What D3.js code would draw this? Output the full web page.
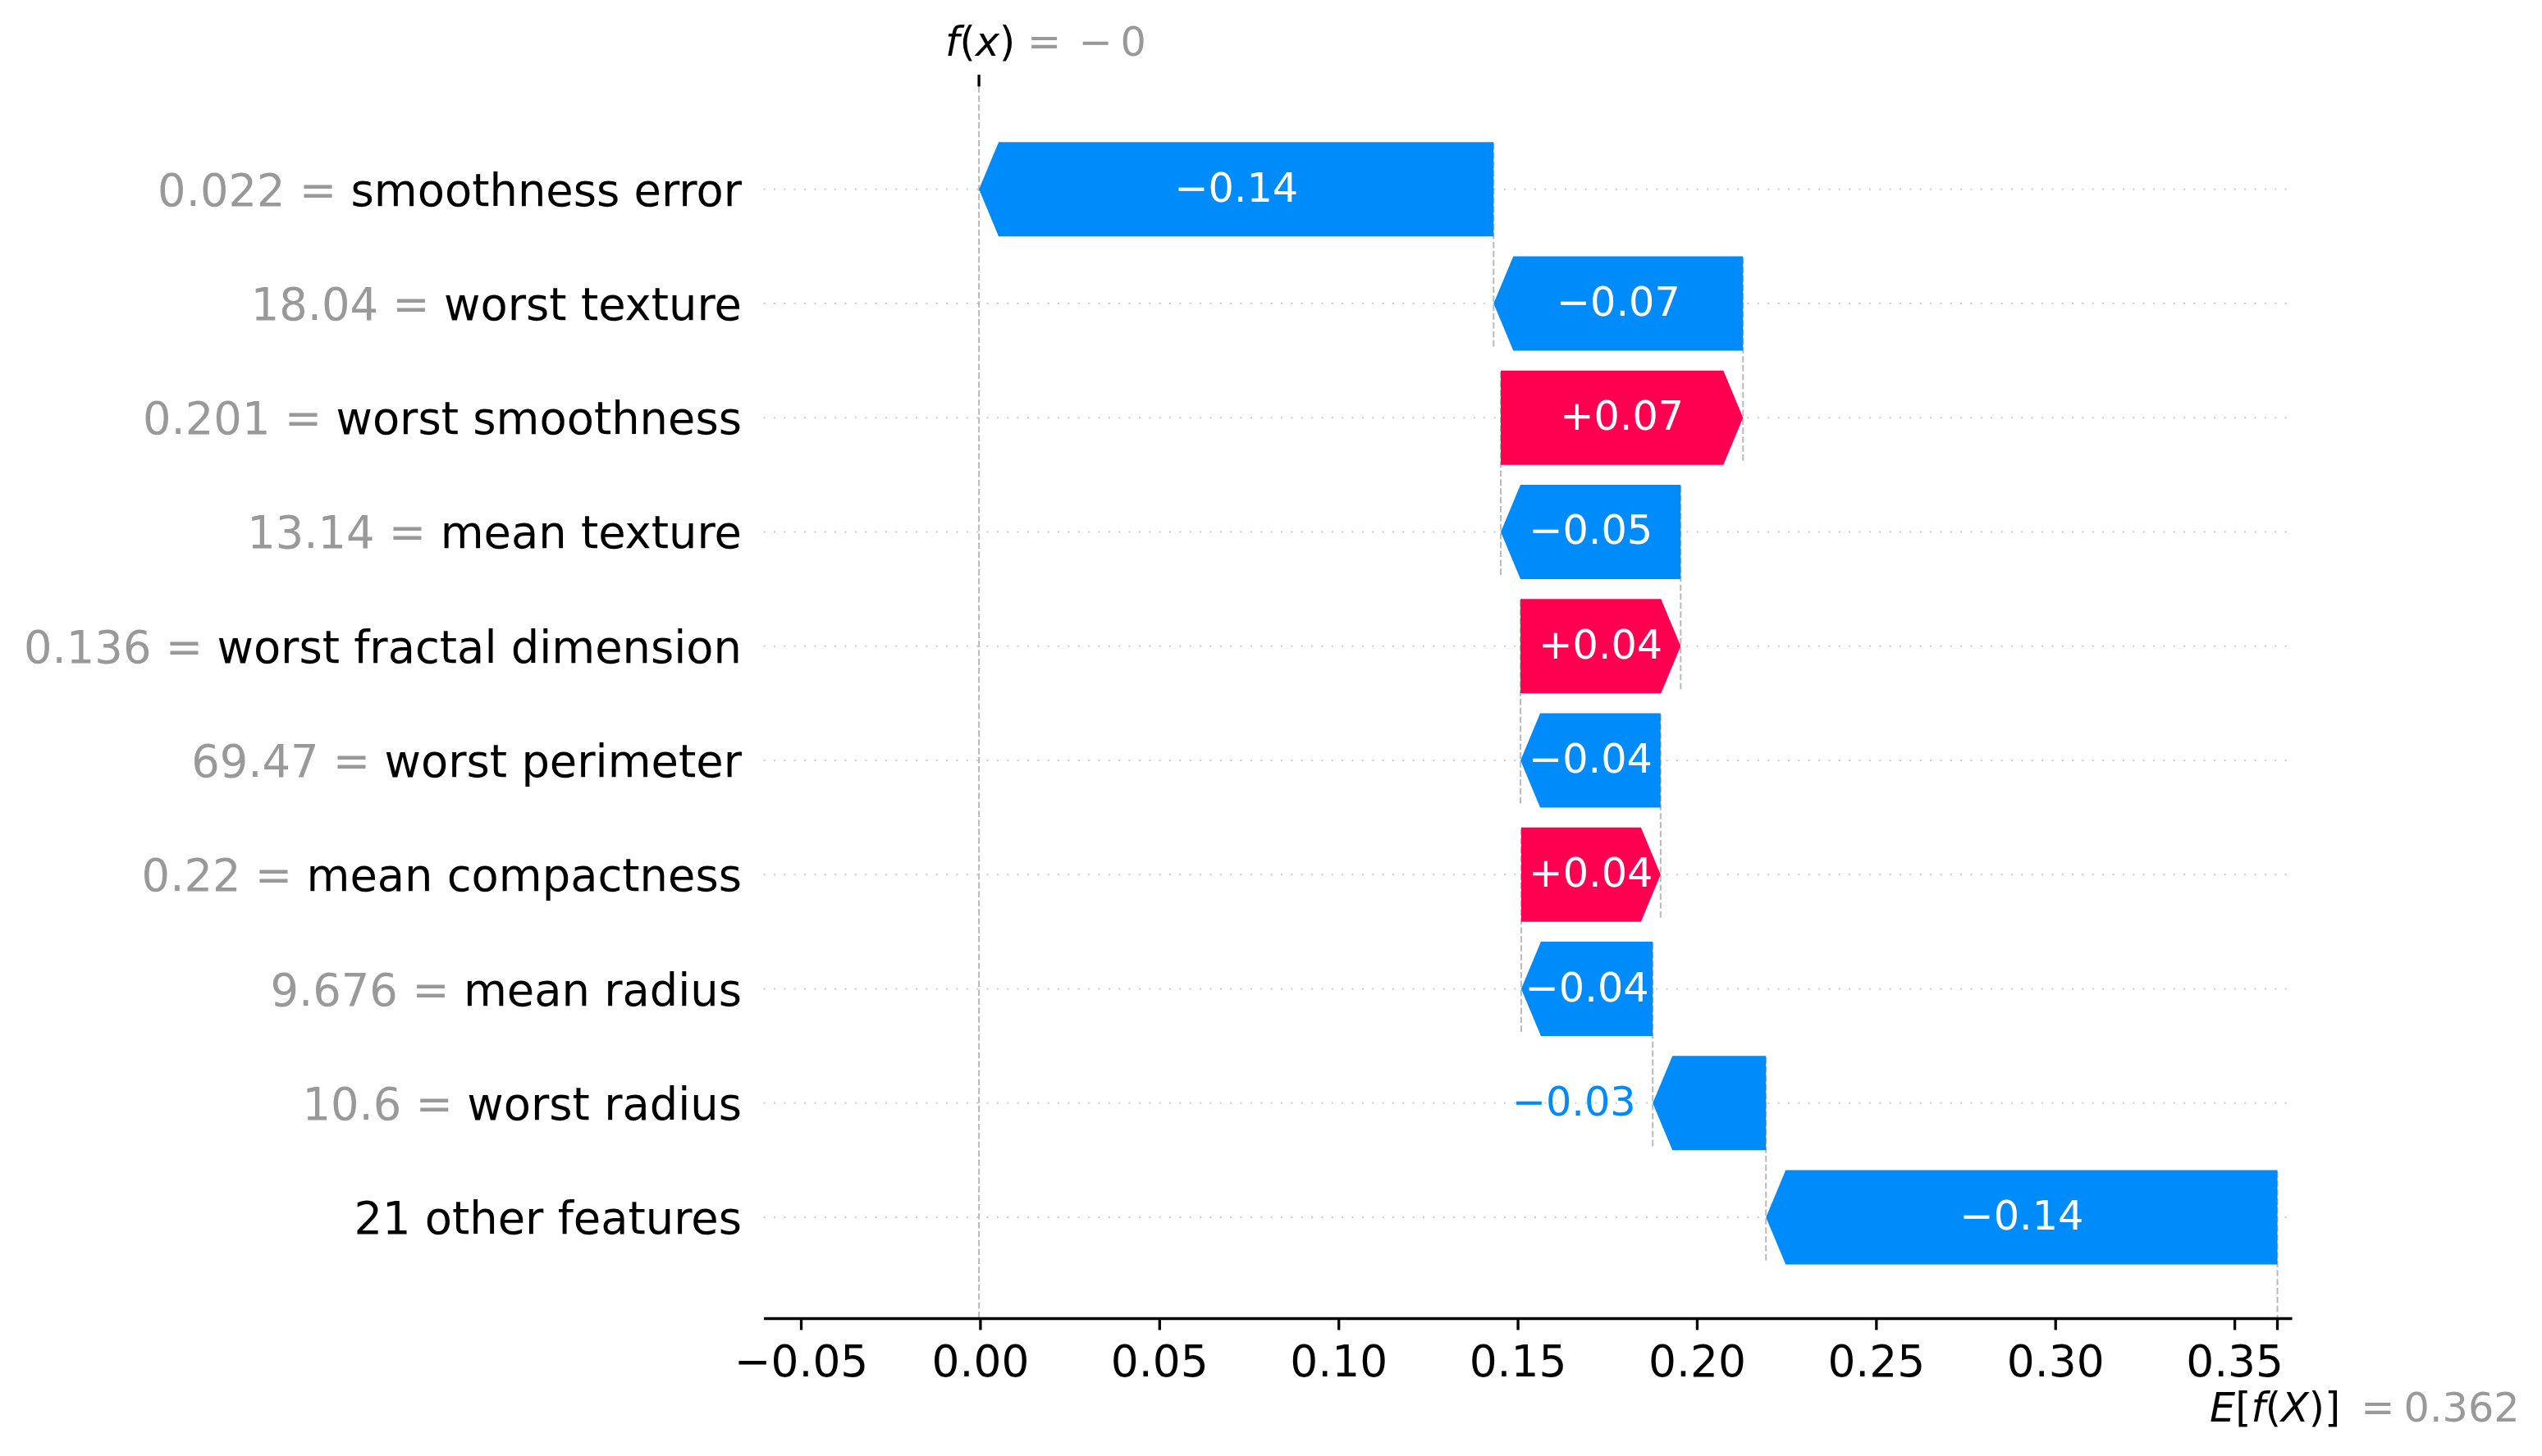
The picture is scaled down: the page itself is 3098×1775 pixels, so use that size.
<!DOCTYPE html>
<html lang="en">
<head>
<meta charset="utf-8">
<title>SHAP waterfall</title>
<script src="https://cdn.jsdelivr.net/npm/d3@7"></script>
<style>
  body { margin: 0; background: #fff; }
  text { font-family: "DejaVu Sans", sans-serif; white-space: pre; }
</style>
</head>
<body>
<script>
var w = 3098, h = 1775;

// rows from top to bottom
var featureNames = ["smoothness error", "worst texture", "worst smoothness", "mean texture",
  "worst fractal dimension", "worst perimeter", "mean compactness", "mean radius",
  "worst radius", "21 other features"];
var featureValues = ["0.022", "18.04", "0.201", "13.14", "0.136", "69.47", "0.22", "9.676", "10.6", ""];
var shapValues = [-0.1436, -0.0696, 0.0676, -0.0502, 0.0447, -0.0391, 0.0389, -0.0367, -0.0316, -0.1427];
var baseValue = 0.362;
var xTicks = [-0.05, 0, 0.05, 0.10, 0.15, 0.20, 0.25, 0.30, 0.35];

var blue = "#008bfb", red = "#ff0051", gray = "#999999";
var tickFont = 53.4, yLabelFont = 54.3, labelFont = 49.3;
var headLen = 24;

var x = d3.scaleLinear().domain([-0.0604, 0.366]).range([930.6, 2793]);
var y = d3.scaleLinear().domain([-0.883, 9.899]).range([1607, 105.5]);

var n = featureNames.length;
var fx = baseValue + d3.sum(shapValues);
function rowY(i) { return y(n - 1 - i); }

function formatValue(v, digits, signed) {
  var s = (signed && v >= 0 ? "+" : "") + v.toFixed(digits);
  s = s.replace(/\.?0+$/, "");
  if (s[0] === "-") s = "\u2212" + s.slice(1);
  return s;
}

var svg = d3.select("body").append("svg").attr("width", w).attr("height", h);

// segments, walking down from f(x)
var segs = [];
var loc = fx;
shapValues.forEach(function(v, i) {
  var next = loc - v;
  segs.push({i: i, v: v, start: next, end: loc});
  loc = next;
});

// dotted row lines
svg.selectAll(".grid").data(d3.range(n)).enter().append("line")
  .attr("x1", x.range()[0]).attr("x2", x.range()[1])
  .attr("y1", function(i) { return rowY(i); })
  .attr("y2", function(i) { return rowY(i); })
  .attr("stroke", "#cccccc").attr("stroke-width", 2.06)
  .attr("stroke-dasharray", "2.06,10.3");

// dashed connectors
svg.selectAll(".conn").data(segs).enter().append("line")
  .attr("x1", function(d) { return x(d.start); })
  .attr("x2", function(d) { return x(d.start); })
  .attr("y1", function(d) { return y(n - 1 - d.i + 0.4); })
  .attr("y2", function(d) { return Math.min(y(n - 1 - d.i - 1.4), y.range()[0]); })
  .attr("stroke", "#bbbbbb").attr("stroke-width", 2.06)
  .attr("stroke-dasharray", "7.6,3.3");

// f(x) line
svg.append("line")
  .attr("x1", x(fx)).attr("x2", x(fx))
  .attr("y1", y.range()[1]).attr("y2", y.range()[0])
  .attr("stroke", "#bbbbbb").attr("stroke-width", 2.06)
  .attr("stroke-dasharray", "7.6,3.3");

// bars
segs.forEach(function(s) {
  var yc = rowY(s.i);
  var top = y(n - 1 - s.i + 0.413), bot = y(n - 1 - s.i - 0.413);
  var xs = x(s.start), xe = x(s.end);
  var dir = xe > xs ? 1 : -1;
  var hl = Math.min(headLen, Math.abs(xe - xs));
  var pts = [[xs, top], [xe - dir * hl, top], [xe, yc], [xe - dir * hl, bot], [xs, bot]];
  var col = s.v >= 0 ? red : blue;
  svg.append("polygon")
    .attr("points", pts.map(function(p) { return p.join(","); }).join(" "))
    .attr("fill", col);

  var lbl = svg.append("text")
    .attr("x", x((s.start + s.end) / 2))
    .attr("y", yc + 15)
    .attr("text-anchor", "middle")
    .attr("font-size", labelFont)
    .attr("fill", "white")
    .text(formatValue(s.v, 2, true));
  var tw = lbl.node().getComputedTextLength();
  if (tw > Math.abs(xe - xs)) {
    if (s.v < 0) {
      lbl.attr("x", xe - 20.5).attr("text-anchor", "end").attr("fill", blue);
    } else {
      lbl.attr("x", xe + 20.5).attr("text-anchor", "start").attr("fill", red);
    }
  }
});

// y labels
featureNames.forEach(function(name, i) {
  var t = svg.append("text")
    .attr("x", 904).attr("y", rowY(i) + 20)
    .attr("text-anchor", "end")
    .attr("font-size", yLabelFont);
  if (featureValues[i] !== "") {
    t.append("tspan").attr("fill", gray).text(featureValues[i] + " = ");
  }
  t.append("tspan").attr("fill", "#000").text(name);
});

// x axis
var xAxis = d3.axisBottom(x)
  .tickValues(xTicks)
  .tickFormat(d3.format(".2f"))
  .tickSize(14.4)
  .tickSizeOuter(0)
  .tickPadding(18.7);

var gx = svg.append("g")
  .attr("transform", "translate(0," + y.range()[0] + ")")
  .call(xAxis);
gx.select(".domain").attr("stroke", "#000").attr("stroke-width", 3.3);
gx.selectAll(".tick line").attr("stroke", "#000").attr("stroke-width", 3.3);
gx.selectAll(".tick text")
  .attr("fill", "#000")
  .attr("font-size", tickFont)
  .attr("font-family", "DejaVu Sans");

// E[f(X)] tick at bottom
svg.append("line")
  .attr("x1", x(baseValue)).attr("x2", x(baseValue))
  .attr("y1", y.range()[0]).attr("y2", y.range()[0] + 14.4)
  .attr("stroke", "#000").attr("stroke-width", 3.3);

// f(x) tick at top
svg.append("line")
  .attr("x1", x(fx)).attr("x2", x(fx))
  .attr("y1", y.range()[1]).attr("y2", y.range()[1] - 14.4)
  .attr("stroke", "#000").attr("stroke-width", 3.3);

// f(x) label
var fxText = formatValue(fx, 3, false);
var ft = svg.append("text").attr("y", 68).attr("font-size", labelFont);
ft.append("tspan").attr("x", x(fx) - 41).attr("font-style", "italic").text("f");
ft.append("tspan").text("(");
ft.append("tspan").attr("font-style", "italic").text("x");
ft.append("tspan").text(")");
ft.append("tspan").attr("x", x(fx) + 59).attr("fill", gray).text("=");
if (fxText[0] === "\u2212") {
  ft.append("tspan").attr("x", x(fx) + 121.5).attr("fill", gray).text("\u2212");
  ft.append("tspan").attr("x", x(fx) + 172.5).attr("fill", gray).text(fxText.slice(1));
} else {
  ft.append("tspan").attr("x", x(fx) + 121.5).attr("fill", gray).text(fxText);
}

// E[f(X)] label
var et = svg.append("text").attr("y", 1733).attr("font-size", labelFont);
et.append("tspan").attr("x", x(baseValue) - 82.5).attr("font-style", "italic").text("E");
et.append("tspan").text("[");
et.append("tspan").attr("font-style", "italic").text("f");
et.append("tspan").text("(");
et.append("tspan").attr("font-style", "italic").text("X");
et.append("tspan").text(")]");
et.append("tspan").attr("x", x(baseValue) + 101.6).attr("fill", gray).text("=");
et.append("tspan").attr("x", x(baseValue) + 154).attr("fill", gray).text(formatValue(baseValue, 3, false));
</script>
</body>
</html>
